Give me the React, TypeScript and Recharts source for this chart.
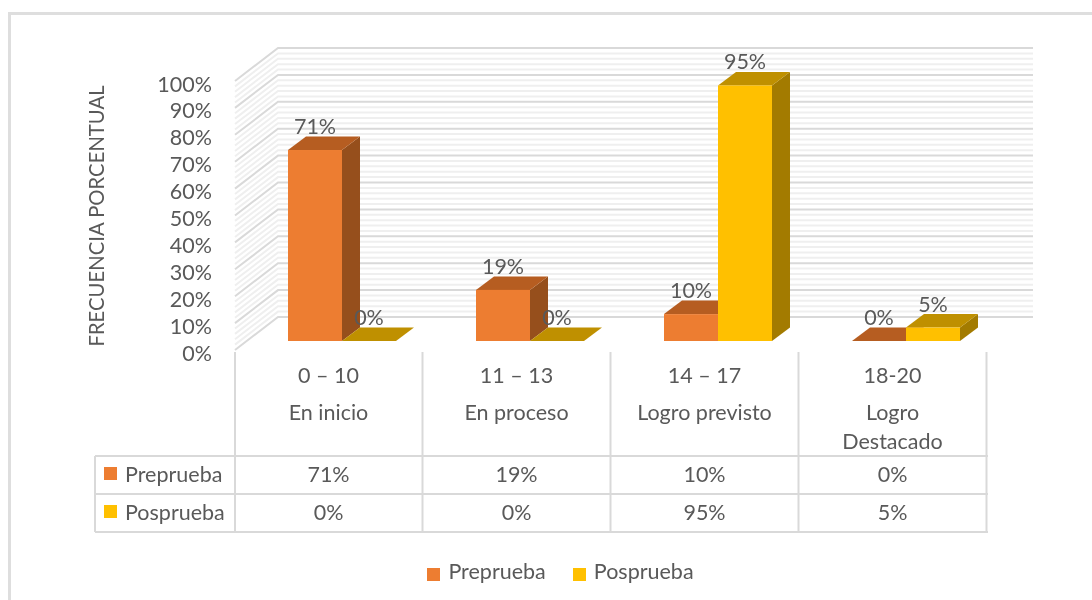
import { Bar, BarChart, CartesianGrid, LabelList, Legend, XAxis, YAxis } from "recharts";

const rangeLabels = ["0 – 10", "11 – 13", "14 – 17", "18-20"];
const levelLabels = [["En inicio"], ["En proceso"], ["Logro previsto"], ["Logro", "Destacado"]];
const preprueba = [71, 19, 10, 0];
const posprueba = [0, 0, 95, 5];
const majorTicks = [0, 10, 20, 30, 40, 50, 60, 70, 80, 90, 100];
const minorTicks = [
  2, 4, 6, 8, 12, 14, 16, 18, 22, 24, 26, 28, 32, 34, 36, 38, 42, 44, 46, 48,
  52, 54, 56, 58, 62, 64, 66, 68, 72, 74, 76, 78, 82, 84, 86, 88, 92, 94, 96, 98,
];

const data = rangeLabels.map((range, i) => ({
  range,
  Preprueba: preprueba[i],
  Posprueba: posprueba[i],
}));

const FONT = "Lato, sans-serif";
const FONT_SIZE = 21.5;
const TEXT = "#595959";
const LINE = "#d9d9d9";
const DEPTH_X = 18;
const DEPTH_Y = 13.5;
const ORANGE = { front: "#ed7d31", top: "#b65d21", side: "#964f1c" };
const YELLOW = { front: "#ffc000", top: "#bf9000", side: "#a37b00" };

// back wall + left wall line for one grid value
function wallLine(color: string, width: number) {
  return (props: any) => {
    const y = props.y1;
    return (
      <polyline
        key={props.key ?? y}
        points={`235,${y + 9} 278,${y - 24} 1033,${y - 24}`}
        fill="none"
        stroke={color}
        strokeWidth={width}
      />
    );
  };
}

function box3d(colors: { front: string; top: string; side: string }) {
  return (props: any) => {
    const { x, y, width, height } = props;
    const r = x + width;
    const b = y + height;
    return (
      <g>
        <polygon points={`${r},${y} ${r + DEPTH_X},${y - DEPTH_Y} ${r + DEPTH_X},${b - DEPTH_Y} ${r},${b}`} fill={colors.side} />
        <polygon points={`${x},${y} ${x + DEPTH_X},${y - DEPTH_Y} ${r + DEPTH_X},${y - DEPTH_Y} ${r},${y}`} fill={colors.top} />
        <rect x={x} y={y} width={width} height={height} fill={colors.front} />
      </g>
    );
  };
}

function YTick({ y, payload }: any) {
  return (
    <text x={212} y={y + 12} dy="0.35em" textAnchor="end" fontSize={FONT_SIZE} fill={TEXT} fontFamily={FONT}>
      {payload.value}%
    </text>
  );
}

// category column of the data table, hung on the x axis ticks
function TableColumn({ x, index }: any) {
  const cx = x - 13.5;
  const right = cx + 94;
  return (
    <g fontFamily={FONT} fontSize={FONT_SIZE} fill={TEXT} textAnchor="middle">
      <line x1={right} x2={right} y1={352} y2={532} stroke={LINE} strokeWidth={2} />
      <text x={cx} y={375} dy="0.35em">{rangeLabels[index]}</text>
      {levelLabels[index].map((t, i) => (
        <text key={t} x={cx} y={412 + i * 29} dy="0.35em">{t}</text>
      ))}
      <text x={cx} y={474} dy="0.35em">{preprueba[index]}%</text>
      <text x={cx} y={512} dy="0.35em">{posprueba[index]}%</text>
    </g>
  );
}

function TableFrame() {
  return (
    <g>
      <line x1={235} x2={235} y1={352} y2={532} stroke={LINE} strokeWidth={2} />
      <line x1={95} x2={95} y1={456} y2={532} stroke={LINE} strokeWidth={2} />
      {[456, 494, 532].map((y) => (
        <line key={y} x1={95} x2={988} y1={y} y2={y} stroke={LINE} strokeWidth={2} />
      ))}
      <rect x={104} y={467} width={13} height={13} fill={ORANGE.front} />
      <rect x={104} y={505} width={13} height={13} fill={YELLOW.front} />
      <g fontFamily={FONT} fontSize={FONT_SIZE} fill={TEXT}>
        <text x={125} y={474} dy="0.35em">Preprueba</text>
        <text x={125} y={512} dy="0.35em">Posprueba</text>
      </g>
    </g>
  );
}

function AxisTitle() {
  return (
    <text
      transform="translate(97 216) rotate(-90)"
      dy="0.35em"
      textAnchor="middle"
      fontSize={20.3}
      fill={TEXT}
      fontFamily={FONT}
    >
      FRECUENCIA PORCENTUAL
    </text>
  );
}

export default function App() {
  return (
    <div style={{ position: "absolute", left: 0, top: 0, width: 1092, height: 600, background: "#fff", fontFamily: FONT, overflow: "hidden", filter: "blur(0.4px)" }}>
      <div style={{ position: "absolute", left: 8, top: 12, width: 1084, height: 588, borderLeft: "3px solid #dedede", borderTop: "3px solid #dedede", boxSizing: "border-box" }} />
      <BarChart
        width={1092}
        height={600}
        data={data}
        barSize={54}
        barGap={0}
        margin={{ top: 72, right: 92, bottom: 0, left: 0 }}
        style={{ position: "absolute", left: 0, top: 0 }}
      >
        <CartesianGrid vertical={false} horizontalValues={minorTicks} horizontal={wallLine("#efefef", 2)} />
        <CartesianGrid vertical={false} horizontalValues={majorTicks} horizontal={wallLine(LINE, 2)} />
        <XAxis dataKey="range" height={259} axisLine={false} tickLine={false} interval={0} tick={<TableColumn />} />
        <YAxis
          width={248}
          domain={[0, 100]}
          ticks={majorTicks}
          interval={0}
          axisLine={false}
          tickLine={false}
          tick={<YTick />}
        />
        <Bar dataKey="Preprueba" fill={ORANGE.front} shape={box3d(ORANGE)} isAnimationActive={false}>
          <LabelList dataKey="Preprueba" position="top" offset={16} formatter={(v: number) => `${v}%`} fill={TEXT} fontSize={FONT_SIZE} fontFamily={FONT} />
        </Bar>
        <Bar dataKey="Posprueba" fill={YELLOW.front} shape={box3d(YELLOW)} isAnimationActive={false}>
          <LabelList dataKey="Posprueba" position="top" offset={16} formatter={(v: number) => `${v}%`} fill={TEXT} fontSize={FONT_SIZE} fontFamily={FONT} />
        </Bar>
        <Legend
          layout="horizontal"
          align="center"
          verticalAlign="middle"
          iconType="square"
          iconSize={13}
          itemSorter={null}
          wrapperStyle={{ left: 414, top: 558, width: 320, height: 28 }}
          formatter={(value: string) => (
            <span style={{ color: TEXT, fontSize: FONT_SIZE, marginLeft: 4, marginRight: 17 }}>{value}</span>
          )}
        />
        <AxisTitle />
        <TableFrame />
      </BarChart>
    </div>
  );
}
